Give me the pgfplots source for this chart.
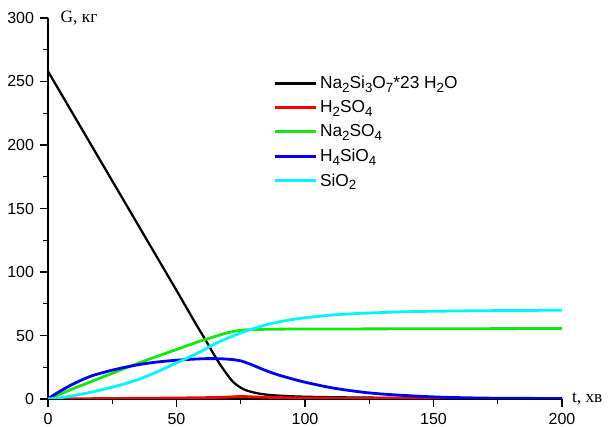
\documentclass[border=0pt]{standalone}
\usepackage{fontspec}
\setmainfont{Liberation Sans}
\newfontfamily\labelfont{Liberation Serif}
\usepackage{pgfplots}
\pgfplotsset{compat=1.18}

\definecolor{cgreen}{RGB}{20,230,20}
\definecolor{cblue}{RGB}{0,0,240}
\definecolor{ccyan}{RGB}{0,245,255}
\definecolor{cred}{RGB}{250,0,0}

% chemical subscript set in the text font
\newcommand{\sub}[1]{\raisebox{-0.4ex}{\fontsize{10}{12}\selectfont #1}}

\begin{document}
\begin{tikzpicture}
\useasboundingbox (-36pt,-21pt) rectangle (424.5pt,299.25pt);
\begin{axis}[
  name=ax,
  scale only axis,
  width=385.5pt, height=285.75pt,
  xmin=0, xmax=200, ymin=0, ymax=300,
  axis x line=bottom, axis y line=left,
  axis line style={-, line width=1.3pt},
  xtick={0,50,100,150,200},
  ytick={0,50,100,150,200,250,300},
  minor tick num=1,
  tick align=outside,
  major tick length=6pt,
  minor tick length=4pt,
  major tick style={line width=1pt, black},
  minor tick style={line width=1pt, black},
  every tick label/.append style={font=\fontsize{12}{14}\selectfont},
  /pgf/number format/assume math mode=true,
  xticklabel style={yshift=-1pt},
  yticklabel style={xshift=-1pt},
  legend cell align=left,
  legend style={at={(0.43,0.862)}, anchor=north west, draw=none, fill=none,
    font=\fontsize{13}{15}\selectfont, row sep=3.5pt},
  legend image code/.code={\draw[#1] (0pt,0pt) -- (31pt,0pt);},
]
% Na2Si3O7*23H2O
\addplot[black, line width=1.7pt, smooth, tension=0.4] coordinates {
 (0,258) (10,223.5) (20,189) (30,154.5) (40,120) (50,85.5) (55,68) (58,57.5)
 (61,47.5) (64,37) (67,27) (70,18.5) (72,13.5) (74,10.2) (76,7.8) (78,6.2)
 (82,4.3) (86,3.2) (92,2.4) (98,1.9) (110,1.4) (125,1.1) (140,0.9) (170,0.6) (200,0.4)};
\addlegendentry{Na\sub{2}Si\sub{3}O\sub{7}*23 H\sub{2}O}
% H2SO4
\addplot[cred, line width=2.1pt, smooth, tension=0.3] coordinates {
 (0,0.1) (20,0.3) (40,0.6) (60,1) (70,1.5) (75,2) (80,1.6) (90,1.1) (100,0.8)
 (120,0.5) (150,0.3) (200,0.2)};
\addlegendentry{H\sub{2}SO\sub{4}}
% Na2SO4
\addplot[cgreen, line width=2.1pt, smooth, tension=0.3] coordinates {
 (0,0) (10,8.3) (20,16.3) (30,24.2) (36,28.8) (40,31.8) (50,39) (59,45.5) (62,47.3)
 (66,49.9) (70,52.2) (73,53.5) (76,54.3) (80,54.7) (90,55) (100,55.1) (150,55.3) (200,55.5)};
\addlegendentry{Na\sub{2}SO\sub{4}}
% H4SiO4
\addplot[cblue, line width=2.1pt, smooth, tension=0.4] coordinates {
 (0,0) (2,2.8) (4,5.3) (7,8.8) (10,12) (13.5,15.3) (17,18.2) (21,20.6) (25,22.7)
 (30,25) (36,27.3) (42,29) (49,30.4) (55,31.2) (62,31.8) (68,31.6) (72,31) (75,30)
 (78,28) (81,25.5) (85,22.2) (90,18.7) (98,14.2) (105,11) (111,8.6) (118,6.5)
 (124,5) (130,3.9) (137,3) (145,2.1) (155,1.3) (170,0.7) (185,0.5) (200,0.4)};
\addlegendentry{H\sub{4}SiO\sub{4}}
% SiO2
\addplot[ccyan, line width=2.1pt, smooth, tension=0.4] coordinates {
 (0,0) (5,1) (10,2.7) (16,5) (23,8.3) (30,12) (36,16) (42,21) (49,27.5) (55,33)
 (60,38) (65,43.5) (70,48) (75,52) (80,55.5) (85,58.5) (90,60.8) (98,63.5)
 (105,65) (111,66.2) (120,67.3) (129,68) (137,68.6) (150,69.1) (175,69.6) (200,69.9)};
\addlegendentry{SiO\sub{2}}
\end{axis}
% axis titles beside the ends of the axes
\node[anchor=west, font=\labelfont\fontsize{13}{15}\selectfont] at (ax.north west) [xshift=6pt] {G, кг};
\node[anchor=west, font=\labelfont\fontsize{13}{15}\selectfont] at (ax.south east) [xshift=4pt] {t, хв};
\end{tikzpicture}
\end{document}
